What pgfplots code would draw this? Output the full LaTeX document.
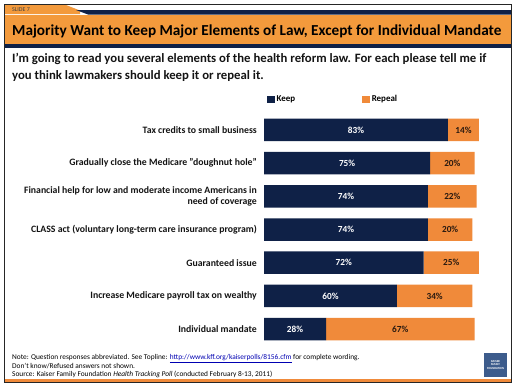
\documentclass[border=0pt]{standalone}
\usepackage{pgfplots}
\usepackage{pgfplotstable}
\pgfplotsset{compat=1.18}
\usepackage{fontspec}
\setmainfont{Carlito}
\definecolor{navy}{HTML}{0F2147}
\definecolor{barorange}{HTML}{F08A3A}
\definecolor{bandorange}{HTML}{F39A3C}
\definecolor{logoblue}{HTML}{3D5C8C}
\definecolor{darktxt}{HTML}{2A1A10}
\definecolor{titletxt}{HTML}{141414}
\pgfplotstableread{
idx keep repeal
0 83 14
1 75 20
2 74 22
3 74 20
4 72 25
5 60 34
6 28 67
}\data
\begin{document}
\begin{tikzpicture}
\begin{scope}[x=1bp,y=-1bp]
\useasboundingbox (0,0) rectangle (522,391);
\fill[white] (0,0) rectangle (522,391);
% header
\fill[bandorange] (5,5) -- (66,5) -- (80,10.5) -- (80,14) -- (5,14) -- cycle;
\fill[navy] (76,10) -- (511,10) -- (511,14.5) -- (88,14.5) -- cycle;
\fill[bandorange] (5,14.5) rectangle (511,44);
\fill[navy] (5,44) rectangle (511,47.5);
\node[anchor=west, inner sep=0pt, font=\fontsize{6}{7}\selectfont, text=black!75] at (12,10) {SLIDE 7};
\node[anchor=base west, inner sep=0pt, font=\bfseries\fontsize{15.3}{17}\selectfont] at (12,35.5) {\color{black}Majority Want to Keep Major Elements of Law, Except for Individual Mandate};
\node[anchor=base west, inner sep=0pt, font=\bfseries\fontsize{12.8}{14}\selectfont, text=titletxt] at (12,62) {I'm going to read you several elements of the health reform law. For each please tell me if};
\node[anchor=base west, inner sep=0pt, font=\bfseries\fontsize{12.8}{14}\selectfont, text=titletxt] at (12,79) {you think lawmakers should keep it or repeal it.};
% footer
\node[anchor=base west, inner sep=0pt, font=\fontsize{7.4}{8}\selectfont] at (12,359.5) {Note: Question responses abbreviated. See Topline: \textcolor{blue!70!black}{\underline{http://www.kff.org/kaiserpolls/8156.cfm}} for complete wording.};
\node[anchor=base west, inner sep=0pt, font=\fontsize{7.4}{8}\selectfont] at (12,368) {Don't know/Refused answers not shown.};
\node[anchor=base west, inner sep=0pt, font=\fontsize{7.4}{8}\selectfont] at (12,376.5) {Source: Kaiser Family Foundation \textit{Health Tracking Poll} (conducted February 8-13, 2011)};
\fill[logoblue] (484,353) rectangle (507,377);
\node[align=center, inner sep=0pt, text=white, font=\bfseries\fontsize{3}{3.4}\selectfont] at (495.5,365) {KAISER\\FAMILY\\FOUNDATION};
\fill[barorange] (5,378.5) rectangle (511,381.5);
\draw[black!85, line width=1bp] (4.5,4.5) rectangle (511.5,382.5);
\end{scope}
\begin{axis}[
  at={(264bp,-113.4bp)}, anchor=north west,
  scale only axis, width=221.6bp, height=232.2bp,
  xbar stacked, bar width=22.5bp,
  xmin=0, xmax=100, ymin=-0.5, ymax=6.5, y dir=reverse,
  axis line style={draw=none}, major tick length=0pt,
  xtick=\empty, ytick={0,...,6},
  yticklabels={Tax credits to small business,
    {Gradually close the Medicare "doughnut hole"},
    {Financial help for low and moderate income Americans in\\need of coverage},
    {CLASS act (voluntary long-term care insurance program)},
    Guaranteed issue,
    Increase Medicare payroll tax on wealthy,
    Individual mandate},
  yticklabel style={align=right, font=\bfseries\fontsize{9.8}{11.5}\selectfont, inner xsep=0pt, xshift=-7bp, text=titletxt},
  /pgf/number format/assume math mode=true,
  nodes near coords={\pgfmathprintnumber{\pgfplotspointmeta}\%},
  every node near coord/.append style={font=\bfseries\fontsize{9.3}{10}\selectfont},
  legend columns=2,
  legend style={at={(rel axis cs:0.0135,1)}, anchor=south west, yshift=8bp, draw=none, fill=none, inner sep=0pt,
    font=\bfseries\fontsize{9}{10}\selectfont,
    /tikz/every even column/.append style={column sep=65bp}},
  legend image code/.code={\fill[#1] (0bp,-3.5bp) rectangle (7.5bp,3.5bp);},
]
\addplot[fill=navy, draw=none, every node near coord/.append style={text=white}] table[x=keep, y=idx] {\data};
\addplot[fill=barorange, draw=none, every node near coord/.append style={text=darktxt}] table[x=repeal, y=idx] {\data};
\legend{Keep, Repeal}
\end{axis}
\end{tikzpicture}
\end{document}
